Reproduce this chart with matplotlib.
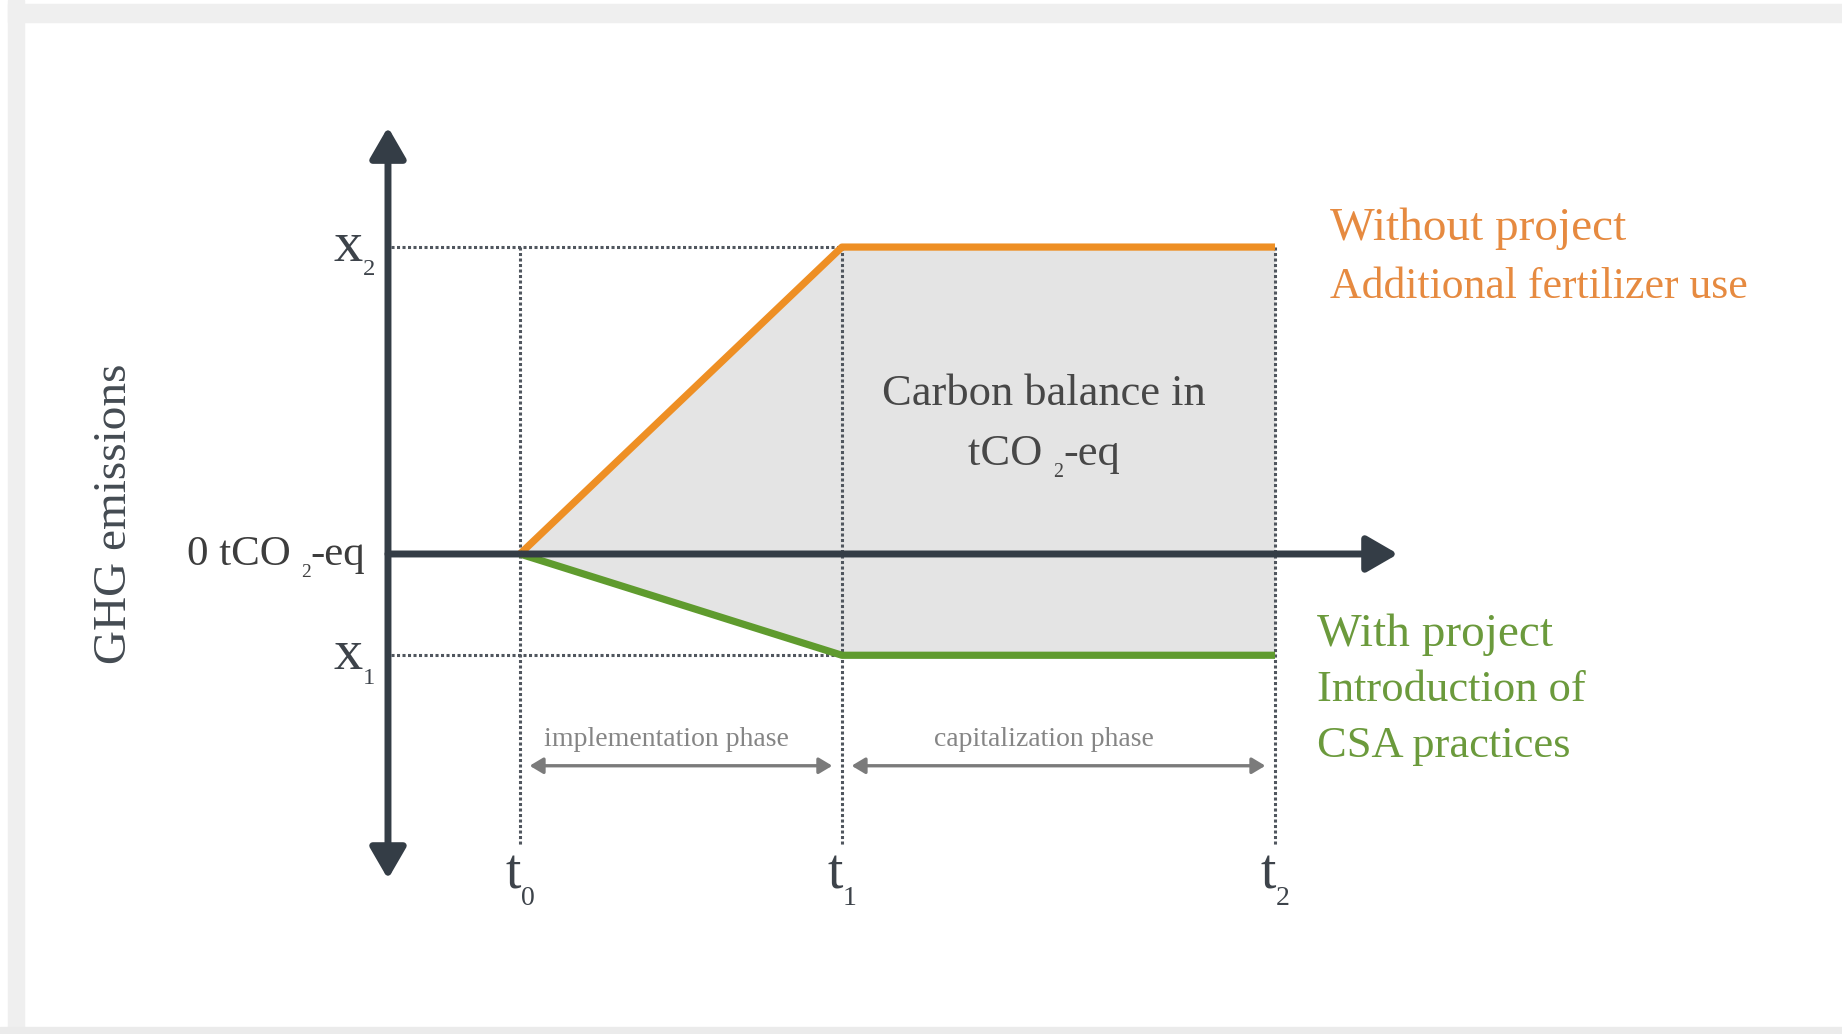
import matplotlib
matplotlib.use("Agg")
import matplotlib.pyplot as plt
from matplotlib.patches import Rectangle
from matplotlib.transforms import ScaledTranslation

plt.rcParams["font.family"] = ["Liberation Serif", "DejaVu Serif"]

# ---- data (schematic units: time in "t1 = 1", emissions in "x2 = 1") ----
time_points = [0, 1, 2.345]          # t0, t1, t2
time_subs = ["0", "1", "2"]
without_project = [0, 1, 1]          # baseline: additional fertilizer use
with_project = [0, -0.33, -0.33]     # CSA practices
level_subs = ["2", "1"]              # x2, x1
phase_names = ["implementation phase", "capitalization phase"]

orange = "#ee8f24"
green = "#5f9b2e"
axis_col = "#343d46"
dot_col = "#50565e"

fig = plt.figure(figsize=(18.42, 10.34), dpi=100)
ax = fig.add_axes([0, 0, 1, 1])
ax.set_xlim(-1.615, 4.106)
ax.set_ylim(-1.564, 1.805)
ax.axis("off")
renderer = fig.canvas.get_renderer()


def sub_text(x, y, parts, size, color, ha="left", sub_scale=0.45, drop=0.22):
    """Draw text made of (string, is_subscript) pieces, baseline at y."""
    pieces = []
    cursor = 0.0
    for s, is_sub in parts:
        fs = size * sub_scale if is_sub else size
        dy = -drop * size if is_sub else 0.0
        t = ax.text(x, y, s, fontsize=fs, color=color, ha="left", va="baseline", zorder=6)
        w = t.get_window_extent(renderer).width * 72 / fig.dpi
        pieces.append((t, cursor, dy))
        cursor += w
    shift = {"left": 0.0, "center": -cursor / 2, "right": -cursor}[ha]
    for t, dx, dy in pieces:
        t.set_transform(ax.transData + ScaledTranslation((dx + shift) / 72, dy / 72,
                                                         fig.dpi_scale_trans))


# page frame (light grey shadow bands)
fig.patches.append(Rectangle((8 / 1842, 0), 16 / 1842, 1, transform=fig.transFigure,
                             color="#efefef", zorder=0))
fig.patches.append(Rectangle((8 / 1842, 1 - 22 / 1034), 1, 18 / 1034, transform=fig.transFigure,
                             color="#efefef", zorder=0))
fig.patches.append(Rectangle((0, 0), 1, 7 / 1034, transform=fig.transFigure,
                             color="#ebebeb", zorder=0))

# grey area between the two scenarios
ax.fill_between(time_points, with_project, without_project, color="#e4e4e4", lw=0, zorder=1)

# dotted guides
dots = dict(color=dot_col, lw=2.2, linestyle=(0, (1, 0.8)), zorder=2)
x2, x1 = without_project[1], with_project[1]
ax.plot([-0.40, time_points[1]], [x2, x2], **dots)
ax.plot([-0.40, time_points[1]], [x1, x1], **dots)
for t in time_points:
    ax.plot([t, t], [x2, -0.95], **dots)

# scenario lines
ax.plot(time_points, without_project, color=orange, lw=5.2, solid_capstyle="butt",
        solid_joinstyle="round", zorder=4)
ax.plot(time_points, with_project, color=green, lw=5.2, solid_capstyle="butt",
        solid_joinstyle="round", zorder=4)

# axes arrows
ax.annotate("", xy=(-0.41, 1.391), xytext=(-0.41, -1.059),
            arrowprops=dict(arrowstyle="<|-|>,head_length=0.95,head_width=0.55", color=axis_col,
                            lw=5, shrinkA=0, shrinkB=0, mutation_scale=20), zorder=5)
ax.annotate("", xy=(2.727, 0), xytext=(-0.41, 0),
            arrowprops=dict(arrowstyle="-|>,head_length=0.95,head_width=0.55", color=axis_col,
                            lw=5, shrinkA=0, shrinkB=0, mutation_scale=20), zorder=5)

# phase arrows
phase_spans = [(time_points[0], time_points[1]), (time_points[1], time_points[2])]
for name, (a, b) in zip(phase_names, phase_spans):
    ax.annotate("", xy=(b - 0.03, -0.69), xytext=(a + 0.03, -0.69),
                arrowprops=dict(arrowstyle="<|-|>,head_length=0.5,head_width=0.3", color="#7b7b7b",
                                lw=2.4, shrinkA=0, shrinkB=0, mutation_scale=16), zorder=3)
    ax.text((a + b) / 2 - 0.045, -0.605, name, ha="center", va="center", fontsize=20,
            color="#858585")

# tick-like labels
for t, s in zip(time_points, time_subs):
    sub_text(t, -1.09, [("t", False), (s, True)], 40, "#3d434a", ha="center",
             sub_scale=0.5, drop=0.3)
for lvl, s in zip([x2, x1], level_subs):
    sub_text(-0.45, lvl - 0.045, [("x", False), (s, True)], 42, "#3d434a", ha="right",
             sub_scale=0.42, drop=0.25)
sub_text(-0.48, -0.035, [("0 tCO ", False), ("2", True), ("-eq", False)], 31, "#3d3d3d",
         ha="right", sub_scale=0.45, drop=0.28)

ax.text(-1.26, 0.13, "GHG emissions", rotation=90, ha="center", va="center",
        fontsize=34, color="#444b52")

# carbon balance annotation
ax.text(1.627, 0.52, "Carbon balance in", ha="center", va="center", fontsize=32, color="#474747")
sub_text(1.627, 0.29, [("tCO ", False), ("2", True), ("-eq", False)], 32, "#474747",
         ha="center", sub_scale=0.45, drop=0.28)

# scenario labels
ax.text(2.515, 1.059, "Without project", ha="left", va="center", fontsize=34, color="#e68a40")
ax.text(2.515, 0.87, "Additional fertilizer use", ha="left", va="center", fontsize=31.5,
        color="#e68a40")
ax.text(2.475, -0.264, "With project", ha="left", va="center", fontsize=34, color="#6b9a3c")
ax.text(2.475, -0.443, "Introduction of", ha="left", va="center", fontsize=32, color="#6b9a3c")
ax.text(2.475, -0.625, "CSA practices", ha="left", va="center", fontsize=32, color="#6b9a3c")

fig.savefig("out.png", dpi=100)
